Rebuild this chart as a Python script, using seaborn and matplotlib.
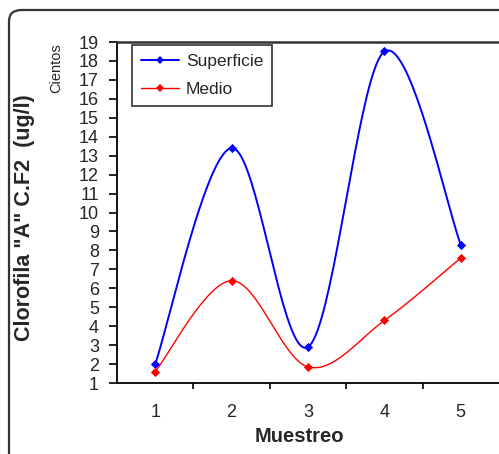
import numpy as np
import pandas as pd
import matplotlib
matplotlib.use("Agg")
import matplotlib.pyplot as plt
from matplotlib.lines import Line2D
from matplotlib.patches import FancyBboxPatch
import seaborn as sns

# Sampling campaigns and chlorophyll-a readings (hundreds of ug/l)
muestreo = [1, 2, 3, 4, 5]
superficie = [2.0, 13.4, 2.9, 18.5, 8.3]
medio = [1.6, 6.4, 1.85, 4.3, 7.6]
y_ticks = list(range(1, 20))

sns.set_style("white")
plt.rcParams["font.family"] = ["Liberation Sans", "DejaVu Sans"]


def smooth(xs, ys, n=40):
    """Catmull-Rom style cubic Bezier smoothing through every point."""
    pts = np.column_stack([xs, ys]).astype(float)
    ext = np.vstack([pts[0], pts, pts[-1]])
    out = []
    for i in range(len(pts) - 1):
        p0, p1, p2, p3 = ext[i], ext[i + 1], ext[i + 2], ext[i + 3]
        c1 = p1 + (p2 - p0) / 6.0
        c2 = p2 - (p3 - p1) / 6.0
        t = np.linspace(0, 1, n)[:, None]
        seg = ((1 - t) ** 3) * p1 + 3 * ((1 - t) ** 2) * t * c1 \
            + 3 * (1 - t) * t ** 2 * c2 + t ** 3 * p2
        out.append(seg if i == 0 else seg[1:])
    arr = np.vstack(out)
    return arr[:, 0], arr[:, 1]


W, H = 499, 454
fig = plt.figure(figsize=(W / 100, H / 100), dpi=100)
fig.patch.set_facecolor("white")

# Rounded outer frame
frame = FancyBboxPatch((9 / W, -0.2), 1.2, 1 - 10 / H + 0.2,
                       boxstyle="round,pad=0,rounding_size=0.025",
                       transform=fig.transFigure, fill=False,
                       edgecolor="#333333", linewidth=1.6, zorder=0)
fig.patches.append(frame)

ax = fig.add_axes([117 / W, (H - 383) / H, (W - 117) / W, (383 - 42) / H])

series = [("Superficie", superficie, "#0000FF", 1.4),
          ("Medio", medio, "#FF0000", 1.0)]
for name, vals, col, lw in series:
    sx, sy = smooth(muestreo, vals)
    curve = pd.DataFrame({"x": sx, "y": sy})
    sns.lineplot(data=curve, x="x", y="y", ax=ax, color=col, linewidth=lw,
                 sort=False, estimator=None)
    pts = pd.DataFrame({"x": muestreo, "y": vals})
    sns.scatterplot(data=pts, x="x", y="y", ax=ax, color=col, marker="D",
                    s=22, linewidth=0, zorder=5)

ax.set_xlim(0.5, 5.5)
ax.set_ylim(1, 19)
ax.set_yticks(y_ticks)
ax.set_yticklabels([str(v) for v in y_ticks])
ax.set_xticks(muestreo)
ax.set_xticklabels([str(v) for v in muestreo])
ax.set_xticks([1.5, 2.5, 3.5, 4.5], minor=True)
ax.tick_params(axis="x", which="major", length=0, pad=15, labelsize=13)
ax.tick_params(axis="x", which="minor", length=4.5, width=1.2, color="black",
               direction="out", bottom=True)
ax.tick_params(axis="y", which="major", length=6, width=1.2, color="black",
               direction="out", left=True, pad=7, labelsize=13)
ax.set_xlabel("")
ax.set_ylabel("")

for s in ["left", "bottom"]:
    ax.spines[s].set_color("black")
    ax.spines[s].set_linewidth(1.3)
ax.spines["top"].set_color("#333333")
ax.spines["top"].set_linewidth(1.8)
ax.spines["right"].set_visible(False)

handles = [Line2D([0], [0], color=c, lw=lw, marker="D", markersize=4.5,
                  markeredgewidth=0)
           for _, _, c, lw in series]
leg = fig.legend(handles, [n for n, _, _, _ in series],
                 loc="upper left", bbox_to_anchor=(132 / W, 1 - 45 / H),
                 fontsize=12.5, frameon=True, fancybox=False,
                 handlelength=2.2, handletextpad=0.4, labelspacing=0.76,
                 borderpad=0.5, borderaxespad=0)
leg.get_frame().set_edgecolor("black")
leg.get_frame().set_linewidth(1.2)

fig.text(299 / W, 1 - 437 / H, "Muestreo", ha="center", va="center",
         fontsize=14.5, fontweight="bold")
fig.text(25 / W, 1 - 218 / H, 'Clorofila "A" C.F2  (ug/l)', ha="center",
         va="center", rotation=90, fontsize=15.5, fontweight="bold")
fig.text(56 / W, 1 - 68 / H, "Cientos", ha="center", va="center",
         rotation=90, fontsize=10.5)

fig.savefig("out.png", dpi=100)
